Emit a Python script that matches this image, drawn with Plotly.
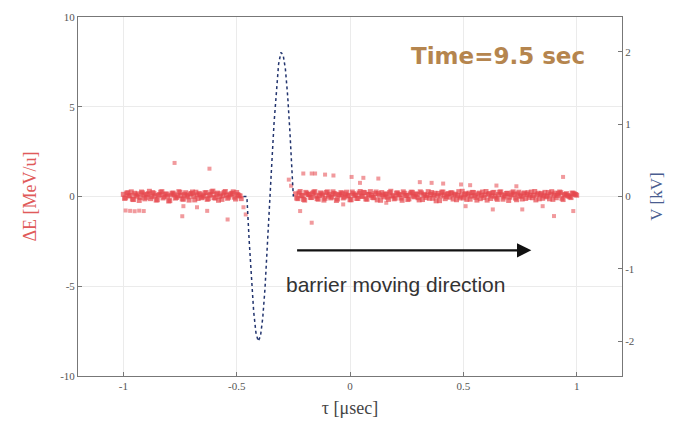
import plotly.graph_objects as go

# ---- Data ----
# Dense particle band, left of barrier (two interleaved rows)
tau_left_a = [-1.00,-0.99,-0.98,-0.97,-0.96,-0.95,-0.94,-0.93,-0.92,-0.91,-0.90,-0.89,-0.88,-0.87,-0.86,-0.85,-0.84,-0.83,-0.82,-0.81,-0.80,-0.79,-0.78,-0.77,-0.76,-0.75,-0.74,-0.73,-0.72,-0.71,-0.70,-0.69,-0.68,-0.67,-0.66,-0.65,-0.64,-0.63,-0.62,-0.61,-0.60,-0.59,-0.58,-0.57,-0.56,-0.55,-0.54,-0.53,-0.52,-0.51,-0.50,-0.49,-0.48]
dE_left_a = [0.12,-0.08,0.21,0.05,-0.15,0.18,0.02,-0.22,0.25,0.09,-0.05,0.16,-0.12,0.22,0.04,-0.18,0.11,0.27,-0.02,0.14,-0.25,0.08,0.19,-0.09,0.03,0.23,-0.14,0.12,0.06,-0.2,0.17,0.01,0.24,-0.11,0.1,-0.03,0.2,-0.16,0.07,0.26,-0.06,0.13,-0.21,0.15,0.04,0.28,-0.1,0.09,0.18,-0.04,0.22,0.05,-0.12]
tau_left_b = [-0.995,-0.985,-0.975,-0.965,-0.955,-0.945,-0.935,-0.925,-0.915,-0.905,-0.895,-0.885,-0.875,-0.865,-0.855,-0.845,-0.835,-0.825,-0.815,-0.805,-0.795,-0.785,-0.775,-0.765,-0.755,-0.745,-0.735,-0.725,-0.715,-0.705,-0.695,-0.685,-0.675,-0.665,-0.655,-0.645,-0.635,-0.625,-0.615,-0.605,-0.595,-0.585,-0.575,-0.565,-0.555,-0.545,-0.535,-0.525,-0.515,-0.505,-0.495,-0.485]
dE_left_b = [-0.1,0.19,0.03,0.26,-0.17,0.08,0.15,-0.06,0.2,-0.13,0.11,0.29,-0.01,0.16,-0.2,0.07,0.24,-0.08,0.13,0.02,-0.23,0.18,0.1,-0.05,0.27,0.06,-0.15,0.21,-0.02,0.14,0.25,-0.19,0.09,0.17,-0.07,0.04,0.22,-0.12,0.12,0.3,-0.09,0.19,0.01,-0.16,0.23,0.08,-0.04,0.15,0.26,-0.14,0.11,0.03]

# Dense particle band, right of barrier (two interleaved rows)
tau_right_a = [-0.24,-0.23,-0.22,-0.21,-0.20,-0.19,-0.18,-0.17,-0.16,-0.15,-0.14,-0.13,-0.12,-0.11,-0.10,-0.09,-0.08,-0.07,-0.06,-0.05,-0.04,-0.03,-0.02,-0.01,0.00,
               0.01,0.02,0.03,0.04,0.05,0.06,0.07,0.08,0.09,0.10,0.11,0.12,0.13,0.14,0.15,0.16,0.17,0.18,0.19,0.20,
               0.21,0.22,0.23,0.24,0.25,0.26,0.27,0.28,0.29,0.30,0.31,0.32,0.33,0.34,0.35,0.36,0.37,0.38,0.39,0.40,
               0.41,0.42,0.43,0.44,0.45,0.46,0.47,0.48,0.49,0.50,0.51,0.52,0.53,0.54,0.55,0.56,0.57,0.58,0.59,0.60,
               0.61,0.62,0.63,0.64,0.65,0.66,0.67,0.68,0.69,0.70,0.71,0.72,0.73,0.74,0.75,0.76,0.77,0.78,0.79,0.80,
               0.81,0.82,0.83,0.84,0.85,0.86,0.87,0.88,0.89,0.90,0.91,0.92,0.93,0.94,0.95,0.96,0.97,0.98,0.99,1.00]
dE_right_a = [0.15,-0.12,0.28,0.05,-0.2,0.18,0.1,-0.06,0.24,0.02,-0.15,0.2,0.07,-0.1,0.26,0.12,-0.03,0.17,-0.22,0.09,
              0.21,-0.08,0.14,0.03,-0.18,0.25,0.06,-0.11,0.19,0.01,0.23,-0.14,0.11,0.27,-0.05,0.16,-0.19,0.08,0.22,-0.02,
              0.13,-0.16,0.29,0.04,-0.09,0.2,0.1,-0.21,0.18,0.06,-0.13,0.24,0.02,0.15,-0.07,0.26,-0.17,0.12,0.05,-0.1,
              0.22,0.08,-0.24,0.17,0.03,0.25,-0.12,0.14,-0.04,0.2,0.09,-0.18,0.27,0.01,-0.08,0.16,0.11,-0.15,0.23,0.05,
              -0.2,0.19,0.07,-0.06,0.28,0.13,-0.11,0.21,0.02,-0.16,0.24,0.1,-0.03,0.17,-0.22,0.08,0.26,-0.09,0.15,0.04,
              -0.14,0.2,0.12,-0.05,0.25,0.06,-0.19,0.18,0.1,-0.1,0.23,0.03,-0.13,0.27,0.08,-0.07,0.16,0.21,-0.17,0.11,
              0.05,-0.02,0.19,0.14,0.07]
tau_right_b = [-0.235,-0.225,-0.215,-0.205,-0.195,-0.185,-0.175,-0.165,-0.155,-0.145,-0.135,-0.125,-0.115,-0.105,-0.095,-0.085,-0.075,-0.065,-0.055,-0.045,-0.035,-0.025,-0.015,-0.005,
               0.005,0.015,0.025,0.035,0.045,0.055,0.065,0.075,0.085,0.095,0.105,0.115,0.125,0.135,0.145,0.155,0.165,0.175,0.185,0.195,
               0.205,0.215,0.225,0.235,0.245,0.255,0.265,0.275,0.285,0.295,0.305,0.315,0.325,0.335,0.345,0.355,0.365,0.375,0.385,0.395,
               0.405,0.415,0.425,0.435,0.445,0.455,0.465,0.475,0.485,0.495,0.505,0.515,0.525,0.535,0.545,0.555,0.565,0.575,0.585,0.595,
               0.605,0.615,0.625,0.635,0.645,0.655,0.665,0.675,0.685,0.695,0.705,0.715,0.725,0.735,0.745,0.755,0.765,0.775,0.785,0.795,
               0.805,0.815,0.825,0.835,0.845,0.855,0.865,0.875,0.885,0.895,0.905,0.915,0.925,0.935,0.945,0.955,0.965,0.975,0.985,0.995]
dE_right_b = [-0.09,0.2,0.04,-0.16,0.23,0.11,-0.05,0.18,0.27,-0.12,0.07,0.15,-0.2,0.22,0.02,-0.08,0.26,0.13,-0.14,0.1,
              0.19,-0.03,0.24,0.06,-0.18,0.16,0.09,-0.11,0.28,0.01,0.21,-0.15,0.12,0.05,-0.07,0.25,0.17,-0.21,0.08,0.14,
              -0.04,0.22,0.03,-0.13,0.19,0.1,-0.09,0.26,0.06,-0.17,0.15,0.23,-0.02,0.11,-0.19,0.2,0.07,-0.06,0.27,0.12,
              -0.1,0.18,0.04,-0.23,0.24,0.09,-0.01,0.16,0.21,-0.14,0.13,0.05,-0.08,0.29,0.1,-0.16,0.19,0.02,0.22,-0.05,
              0.14,-0.12,0.25,0.08,-0.2,0.17,0.03,0.23,-0.09,0.11,0.26,-0.15,0.06,0.18,-0.04,0.2,0.12,-0.18,0.24,0.01,
              0.15,-0.11,0.21,0.07,-0.07,0.28,0.1,-0.13,0.17,0.04,-0.02,0.22,0.13,-0.16,0.19,0.06,0.25,-0.1,0.09,0.16,
              0.02,-0.06,0.18,0.11]

# Scattered particles away from the band
tau_out = [-0.774,-0.62,-0.99,-0.97,-0.95,-0.93,-0.91,-0.74,-0.54,-0.735,-0.675,-0.63,-0.46,-0.47,
           -0.206,-0.169,-0.154,-0.11,-0.073,0.007,0.059,0.125,0.308,0.36,0.411,0.49,0.53,0.646,0.734,0.94,0.044,
           -0.22,-0.169,-0.03,0.16,0.51,0.63,0.76,0.85,0.90,0.985,-0.27,-0.26]
dE_out = [1.87,1.55,-0.78,-0.8,-0.82,-0.79,-0.81,-1.1,-1.28,-0.54,-0.6,-0.8,-1.0,-0.6,
          1.28,1.28,1.28,1.22,1.17,1.09,1.04,1.0,0.8,0.76,0.72,0.67,0.63,0.61,0.57,1.09,0.76,
          -0.81,-1.46,-0.44,-0.35,-0.54,-0.72,-0.72,-0.54,-1.09,-0.81,0.94,0.6]

# Barrier voltage (right axis)
tau_V = [-0.47,-0.455,-0.445,-0.435,-0.425,-0.415,-0.405,-0.395,-0.385,-0.375,-0.365,-0.355,-0.345,-0.335,-0.325,-0.315,-0.305,-0.295,-0.285,-0.275,-0.265,-0.255,-0.25]
V_kV = [0.0,0.0,-0.60,-1.15,-1.59,-1.88,-2.00,-1.93,-1.68,-1.27,-0.75,-0.15,0.46,1.02,1.49,1.83,1.99,1.96,1.76,1.39,0.89,0.31,0.0]

x_ticks = [-1, -0.5, 0, 0.5, 1]
x_tick_text = ["-1", "-0.5", "0", "0.5", "1"]
y_ticks = [-10, -5, 0, 5, 10]
y_tick_text = ["-10", "-5", "0", "5", "10"]
y2_ticks = [-2, -1, 0, 1, 2]
y2_tick_text = ["-2", "-1", "0", "1", "2"]

red = "#e5474d"
serif = "Liberation Serif"

fig = go.Figure()
marker = dict(color=red, size=5, opacity=0.7, symbol="square")
for tx, ty in [(tau_left_a, dE_left_a), (tau_left_b, dE_left_b),
               (tau_right_a, dE_right_a), (tau_right_b, dE_right_b)]:
    fig.add_trace(go.Scatter(x=tx, y=ty, mode="markers", marker=marker,
                             showlegend=False, hoverinfo="skip"))
fig.add_trace(go.Scatter(x=tau_out, y=dE_out, mode="markers",
                         marker=dict(color=red, size=4, opacity=0.55, symbol="square"),
                         showlegend=False))
fig.add_trace(go.Scatter(x=tau_V, y=V_kV, mode="lines", yaxis="y2",
                         line=dict(color="#22346e", width=1.5, dash="dot"),
                         showlegend=False))

fig.add_annotation(x=0.80, y=-3.0, ax=-0.24, ay=-3.0, xref="x", yref="y",
                   axref="x", ayref="y", text="", showarrow=True,
                   arrowhead=2, arrowsize=1.3, arrowwidth=2.2, arrowcolor="#111")
fig.add_annotation(x=0.2, y=-4.9, xref="x", yref="y", text="barrier moving direction",
                   showarrow=False, font=dict(family="Liberation Sans", size=21, color="#333"))
fig.add_annotation(x=0.655, y=7.8, xref="x", yref="y", text="<b>Time=9.5 sec</b>",
                   showarrow=False, font=dict(family="DejaVu Sans", size=23, color="#b5854e"))

axis_common = dict(showline=True, linecolor="#777", linewidth=1, ticks="inside",
                   ticklen=4, tickcolor="#777", zeroline=False, automargin=False,
                   tickfont=dict(family=serif, size=11, color="#555"))

# The page body adds an 8px offset; margins compensate so the plot box lands
# at x 78-622, y 17-376 of the window.
fig.update_layout(
    width=679, height=431,
    margin=dict(l=70, r=65, t=9, b=63),
    plot_bgcolor="white", paper_bgcolor="white",
    xaxis=dict(range=[-1.2, 1.2], tickvals=x_ticks, ticktext=x_tick_text, mirror=True,
               showgrid=True, gridcolor="#ebebeb",
               title=dict(text="τ [μsec]", font=dict(family=serif, size=18, color="#444"), standoff=10),
               **axis_common),
    yaxis=dict(range=[-10, 10], tickvals=y_ticks, ticktext=y_tick_text, mirror=True,
               showgrid=True, gridcolor="#ebebeb",
               title=dict(text="ΔE [MeV/u]", font=dict(family=serif, size=18, color="#e05a5a"), standoff=18),
               **axis_common),
    yaxis2=dict(range=[-2.48, 2.48], tickvals=y2_ticks, ticktext=y2_tick_text,
                overlaying="y", side="right", showgrid=False,
                title=dict(text="V [kV]", font=dict(family=serif, size=17, color="#4a5d90"), standoff=16),
                **axis_common),
)

fig.write_html("out.html")
